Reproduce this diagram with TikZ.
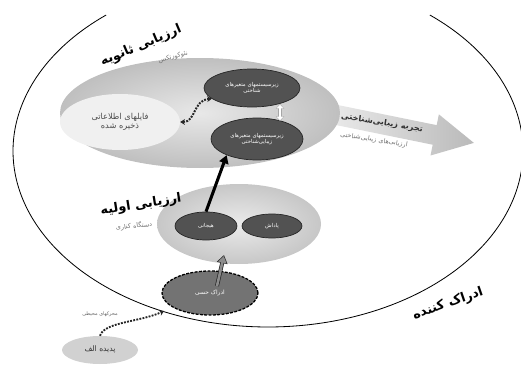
\documentclass[tikz,border=0pt]{standalone}
\usepackage{fontspec}
\usetikzlibrary{shapes.geometric,arrows.meta}
\TeXXeTstate=1
\newfontfamily\fa[Script=Arabic]{DejaVu Sans}
\newcommand\rtl[1]{{\fa\beginR #1\endR}}
\begin{document}
\begin{tikzpicture}[x=0.03cm,y=-0.03cm,
  el/.style 2 args={ellipse, inner sep=0pt, minimum width=#1*0.06cm, minimum height=#2*0.06cm, align=center},
  darkel/.style={draw=black!85, line width=0.6pt, fill=black!68, text=white, font=\fontsize{4.6}{5.6}\selectfont},
  title/.style={font=\fontsize{11}{13}\selectfont\bfseries, text=black},
  subtitle/.style={font=\fontsize{5.5}{6.5}\selectfont, text=black!55},
  dotarrow/.style={line width=1.7pt, black!85, dash pattern=on 1.6pt off 1.1pt, {Stealth[length=4pt,width=5pt]}-{Stealth[length=4pt,width=5pt]}}
]
\useasboundingbox (0,0) rectangle (521,365);
% perceiver (arc of a large ellipse, cut at the top edge)
\draw[line width=0.7pt] plot[domain=-50.6:230.6, samples=160, smooth] ({268+255*cos(\x)}, {151+176*sin(\x)});
% aesthetic experience arrow
\begin{scope}[shift={(322,112)}, rotate=-11.5]
\shade[left color=black!7, right color=black!27] (0,-10) -- (115,-10) -- (115,-21) -- (155,0) -- (115,21) -- (115,10) -- (0,10) -- cycle;
\end{scope}
\node[rotate=-9, font=\fontsize{7}{8}\selectfont\bfseries, text=black!80] (ae) at (382,123) {\rtl{تجربه زیبایی‌شناختی}};
\node[rotate=-9, subtitle] (aa) at (374,140) {\rtl{ارزیابی‌های زیبایی‌شناختی}};
% secondary appraisal
\node[el={140}{55}, shade, inner color=black!9, outer color=black!25] (sec) at (200,113) {};
\node[el={60}{28}, fill=black!6] (si) at (120,122) {};
\node[font=\fontsize{7}{9}\selectfont, text=black!70, align=center] (sit) at (120,122) {\rtl{فایلهای اطلاعاتی}\\[-1pt]\rtl{ذخیره شده}};
\node[el={48}{19}, darkel] (cog) at (252,88) {\rtl{زیرسیستمهای متغیرهای}\\\rtl{شناختی}};
\node[el={46}{21}, darkel] (aes) at (257,139) {\rtl{زیرسیستمهای متغیرهای}\\\rtl{زیبایی‌شناختی}};
\node[title, rotate=23] (t1) at (141,46) {\rtl{ارزیابی ثانویه}};
\node[subtitle, rotate=14] (s1) at (173,57) {\rtl{نئوکورتکس}};
% primary appraisal
\node[el={82}{40}, shade, inner color=black!8, outer color=black!22] (prim) at (239,224) {};
\node[el={31}{14}, darkel] (emo) at (206,226) {\rtl{هیجانی}};
\node[el={30}{12}, darkel] (rew) at (272,226) {\rtl{پاداش}};
\node[title, rotate=9] (t2) at (141,205) {\rtl{ارزیابی اولیه}};
\node[subtitle, rotate=6] (s2) at (134,226) {\rtl{دستگاه کناری}};
% sensory perception
\node[el={48}{22}, fill=black!55, draw=black, line width=1.1pt, dash pattern=on 2.5pt off 1.2pt, text=white, font=\fontsize{5}{6}\selectfont] (sens) at (210,293) {\rtl{ادراک حسی}};
% phenomenon A
\node[el={38}{14}, fill=black!18, font=\fontsize{6.5}{8}\selectfont, text=black!80] (pa) at (100,350) {\rtl{پدیده الف}};
\node[title, rotate=19] (t3) at (448,304) {\rtl{ادراک کننده}};
% connectors
\coordinate (pe) at (164,311);
\draw[line width=1.6pt, black!85, dash pattern=on 1.6pt off 1.1pt, -{Stealth[length=4pt,width=5pt]}] (pa.north) .. controls (104,322) and (140,322) .. (pe);
\node[font=\fontsize{4.2}{5}\selectfont, text=black!60] (env) at (100,314) {\rtl{محرکهای محیطی}};
\draw[dotarrow] (si.east) .. controls (196,122) and (193,100) .. (cog.195);
\coordinate (w1) at (280,104);
\coordinate (w2) at (280,121);
\draw[line width=3.4pt, black!35, {Triangle[length=4pt,width=7pt]}-{Triangle[length=4pt,width=7pt]}] (w1) -- (w2);
\draw[line width=2pt, white, shorten <=0.6pt, shorten >=0.6pt, {Triangle[length=3.2pt,width=5.6pt]}-{Triangle[length=3.2pt,width=5.6pt]}] (w1) -- (w2);
\draw[line width=2.6pt, black, -{Triangle[length=7pt,width=8pt]}] (emo.north) -- (aes.208);
\coordinate (g1) at (217,286);
\coordinate (g2) at (224,255);
\draw[line width=3.4pt, black!85, -{Triangle[length=7pt,width=9pt]}] (g1) -- (g2);
\draw[line width=2.2pt, black!45, shorten >=1pt, -{Triangle[length=5.5pt,width=7pt]}] (g1) -- (g2);
\end{tikzpicture}
\end{document}
